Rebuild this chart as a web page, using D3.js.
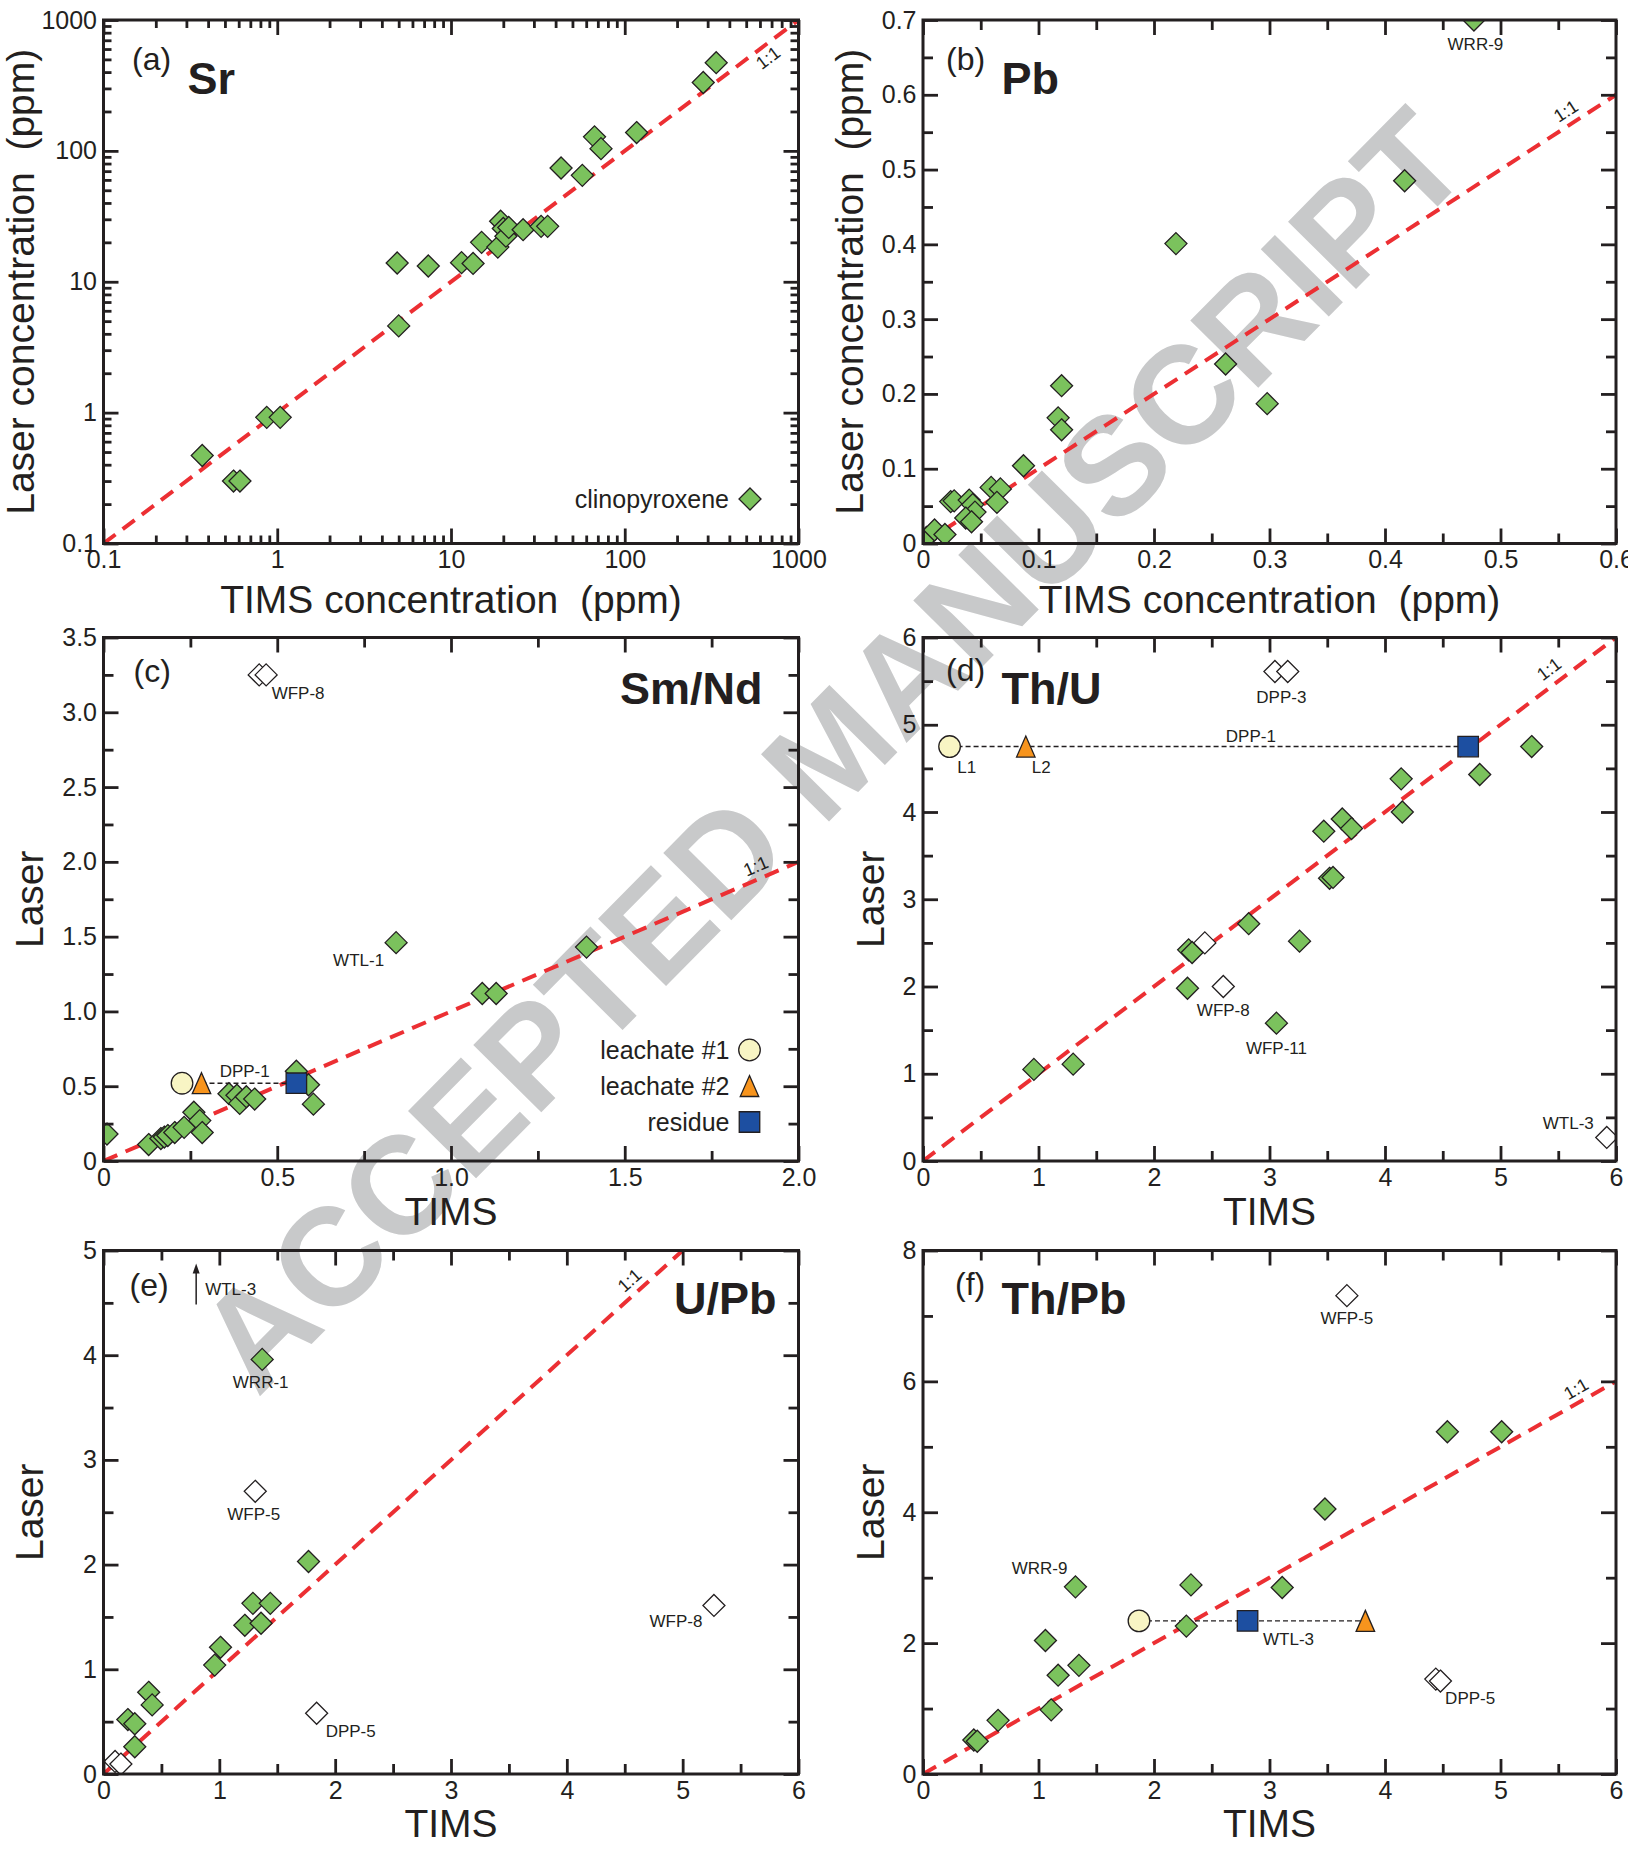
<!DOCTYPE html>
<html>
<head>
<meta charset="utf-8">
<script src="https://cdn.jsdelivr.net/npm/d3@7"></script>
<style>
  body { margin: 0; background: #fff; }
  svg text { font-family: "Liberation Sans", Arial, Helvetica, sans-serif; fill: #231f20; }
  .tick text { font-size: 25px; }
  .tick line { stroke: #231f20; stroke-width: 2.8px; }
</style>
</head>
<body>
<svg id="fig" width="1628" height="1849"></svg>
<script>
// ---------------- values: TIMS (x) vs laser (y) ----------------
// (a) Sr, ppm — clinopyroxene
const srTIMS  = [0.37, 0.56, 0.61, 0.87, 1.04, 4.9, 5.0, 7.4, 11.5, 13.4, 15.0, 18.6, 19.3, 20.0, 20.7, 21.5, 26, 33, 36, 43, 57, 67, 73, 117, 283, 336];
const srLaser = [0.47, 0.30, 0.30, 0.92, 0.92, 13.9, 4.6, 13.2, 14.0, 13.8, 20.0, 18.4, 29, 25.5, 22.3, 26, 25, 26.5, 26.5, 74, 65, 128, 104, 138, 333, 472];

// (b) Pb, ppm
const pbTIMS  = [0.003, 0.010, 0.019, 0.024, 0.027, 0.040, 0.043, 0.045, 0.037, 0.042, 0.059, 0.067, 0.064, 0.087, 0.117, 0.120, 0.120, 0.219, 0.262, 0.298, 0.417];
const pbLaser = [0.008, 0.018, 0.012, 0.056, 0.057, 0.058, 0.052, 0.042, 0.034, 0.029, 0.075, 0.073, 0.055, 0.104, 0.168, 0.152, 0.211, 0.401, 0.240, 0.187, 0.485];
const pbNamed = [["WRR-9", 0.477, 0.700]];

// (c) Sm/Nd
const smndTIMS  = [0.01, 0.13, 0.165, 0.175, 0.185, 0.205, 0.232, 0.26, 0.277, 0.284, 0.361, 0.384, 0.392, 0.411, 0.435, 0.555, 0.59, 0.604, 1.09, 1.13, 1.39];
const smndLaser = [0.18, 0.11, 0.15, 0.16, 0.17, 0.19, 0.225, 0.326, 0.27, 0.19, 0.45, 0.44, 0.385, 0.43, 0.414, 0.60, 0.51, 0.38, 1.12, 1.12, 1.43];
const smndNamed = [["WTL-1", 0.842, 1.46]];
const smndOpen  = [["WFP-8", 0.448, 3.25], ["WFP-8", 0.468, 3.25]];
// leachate #1, leachate #2, residue (DPP-1)
const smndLeachTIMS  = [0.226, 0.282, 0.555];
const smndLeachLaser = [0.52, 0.52, 0.52];

// (d) Th/U
const thuTIMS  = [0.96, 1.30, 2.29, 2.30, 2.33, 2.82, 3.26, 3.47, 3.52, 3.55, 3.63, 3.71, 4.14, 4.15, 4.82, 5.27];
const thuLaser = [1.05, 1.11, 1.98, 2.42, 2.39, 2.72, 2.52, 3.78, 3.24, 3.25, 3.92, 3.81, 4.38, 4.00, 4.43, 4.75];
const thuNamed = [["WFP-11", 3.06, 1.58]];
const thuOpen  = [["DPP-3", 3.047, 5.61], ["DPP-3", 3.158, 5.61], ["", 2.44, 2.50], ["WFP-8", 2.60, 2.00], ["WTL-3", 5.92, 0.27]];
const thuLeachTIMS  = [0.23, 0.89, 4.72];
const thuLeachLaser = [4.75, 4.75, 4.75];

// (e) U/Pb
const upbTIMS  = [0.21, 0.27, 0.27, 0.39, 0.42, 0.96, 1.01, 1.22, 1.29, 1.36, 1.44, 1.77];
const upbLaser = [0.52, 0.48, 0.26, 0.78, 0.66, 1.04, 1.21, 1.42, 1.63, 1.44, 1.63, 2.03];
const upbNamed = [["WRR-1", 1.37, 3.96]];
const upbOpen  = [["", 0.10, 0.12], ["", 0.15, 0.095], ["WFP-5", 1.31, 2.70], ["DPP-5", 1.84, 0.58], ["WFP-8", 5.27, 1.61]];
const upbOffscale = [["WTL-3", 0.80]];   // laser value above the plotted range

// (f) Th/Pb
const thpbTIMS  = [0.44, 0.47, 0.65, 1.11, 1.06, 1.17, 1.35, 2.28, 2.32, 3.11, 3.48, 4.54, 5.01];
const thpbLaser = [0.52, 0.50, 0.82, 0.98, 2.04, 1.51, 1.66, 2.26, 2.89, 2.85, 4.05, 5.23, 5.23];
const thpbNamed = [["WRR-9", 1.32, 2.86]];
const thpbOpen  = [["WFP-5", 3.67, 7.31], ["DPP-5", 4.44, 1.45], ["DPP-5", 4.48, 1.42]];
const thpbLeachTIMS  = [1.87, 3.83, 2.81];   // WTL-3
const thpbLeachLaser = [2.34, 2.34, 2.34];

// tick values
const logMajor = [0.1, 1, 10, 100, 1000];
const logMinor = [0.1, 1, 10, 100].flatMap(d => d3.range(2, 10).map(k => +(d * k).toPrecision(3)));
const pbTicks = [0, 0.1, 0.2, 0.3, 0.4, 0.5, 0.6, 0.7];
const halfTicks = [0, 0.5, 1, 1.5, 2, 2.5, 3, 3.5];
const unitTicks = [0, 1, 2, 3, 4, 5, 6];
const thpbYTicks = [0, 2, 4, 6, 8];

const leachNames = ["leachate #1", "leachate #2", "residue"];

// ---------------- layout ----------------
const INK = "#231f20";
const GREEN = "#7bc25d", YELLOW = "#f8f5c4", ORANGE = "#f7941d", BLUE = "#1d4fa1", RED = "#ec2f33";
const colX = [103.5, 923], colW = [695, 693];
const rowY = [20, 637.5, 1250.5], rowH = 523.5;

const fig = d3.select("#fig");
fig.append("rect").attr("width", 1628).attr("height", 1849).attr("fill", "#fff");

// watermark across the sheet
fig.append("text")
  .attr("transform", "translate(866,784) rotate(-45.3)")
  .attr("text-anchor", "middle")
  .style("font-size", "139px").style("font-weight", "bold").style("fill", "#c8c9ca")
  .text("ACCEPTED MANUSCRIPT");

// marker shapes
const diamondType = { draw(c, s) { const r = Math.sqrt(s / 2); c.moveTo(0, -r); c.lineTo(r, 0); c.lineTo(0, r); c.lineTo(-r, 0); c.closePath(); } };
const triType = { draw(c, s) { const h = Math.sqrt(s), hw = h * 0.44; c.moveTo(0, -h / 2); c.lineTo(hw, h / 2); c.lineTo(-hw, h / 2); c.closePath(); } };
const diamondPath = d3.symbol().type(diamondType).size(242)();
const leachPaths = [
  d3.symbol().type(d3.symbolCircle).size(366)(),
  d3.symbol().type(triType).size(441)(),
  d3.symbol().type(d3.symbolSquare).size(420)()
];
const leachFill = [YELLOW, ORANGE, BLUE];

const fmt1 = d => d === 0 ? "0" : d3.format(".1f")(d);

const specs = [
  { id: "a", col: 0, row: 0, log: true, xd: [0.1, 1000], yd: [0.1, 1000],
    xMajor: logMajor, xMinor: logMinor, yMajor: logMajor, yMinor: logMinor, minorLen: 8,
    xFmt: d => String(d), yFmt: d => String(d),
    xTitle: "TIMS concentration\u00a0\u00a0(ppm)", yTitle: "Laser concentration\u00a0\u00a0(ppm)",
    yTitleX: 33.5, xTitleDy: 69, letter: "(a)", letterAt: [28.5, 50], name: "Sr", nameAt: [84, 74], nameEnd: false,
    oneT: 608, oneDy: 18, tims: srTIMS, laser: srLaser, named: [], open: [], leachX: null, leachY: null,
    notes: [] },
  { id: "b", col: 1, row: 0, xd: [0, 0.6], yd: [0, 0.7],
    xMajor: pbTicks.slice(0, 7), xMinor: d3.range(0.05, 0.6, 0.1), yMajor: pbTicks, yMinor: d3.range(0.05, 0.7, 0.1), minorLen: 10,
    xFmt: fmt1, yFmt: fmt1,
    xTitle: "TIMS concentration\u00a0\u00a0(ppm)", yTitle: "Laser concentration\u00a0\u00a0(ppm)",
    yTitleX: 862.5, xTitleDy: 69, letter: "(b)", letterAt: [23, 50], name: "Pb", nameAt: [78.5, 74], nameEnd: false,
    oneT: 0.563, oneDy: -7.4, tims: pbTIMS, laser: pbLaser, named: pbNamed, open: [], leachX: null, leachY: null,
    notes: [{ ref: "WRR-9", dx: 1.5, dy: 30, anchor: "middle" }] },
  { id: "c", col: 0, row: 1, xd: [0, 2], yd: [0, 3.5],
    xMajor: [0, 0.5, 1, 1.5, 2], xMinor: [0.25, 0.75, 1.25, 1.75], yMajor: halfTicks, yMinor: d3.range(0.25, 3.5, 0.5), minorLen: 10,
    xFmt: fmt1, yFmt: fmt1,
    xTitle: "TIMS", yTitle: "Laser",
    yTitleX: 42.5, xTitleDy: 63.5, letter: "(c)", letterAt: [30, 44], name: "Sm/Nd", nameAt: [-36, 66], nameEnd: true,
    oneT: 1.892, oneDy: -6.9, tims: smndTIMS, laser: smndLaser, named: smndNamed, open: smndOpen,
    leachX: smndLeachTIMS, leachY: smndLeachLaser, leachFrom: 1, leachLabel: "DPP-1", leachLabelAt: [5.5, -6],
    notes: [{ ref: "WFP-8", idx: 1, dx: 5.5, dy: 24, anchor: "start" }, { ref: "WTL-1", dx: -12, dy: 23.5, anchor: "end" }] },
  { id: "d", col: 1, row: 1, xd: [0, 6], yd: [0, 6],
    xMajor: unitTicks, xMinor: d3.range(0.5, 6, 1), yMajor: unitTicks, yMinor: d3.range(0.5, 6, 1), minorLen: 10,
    xFmt: d3.format("d"), yFmt: d3.format("d"),
    xTitle: "TIMS", yTitle: "Laser",
    yTitleX: 884, xTitleDy: 63.5, letter: "(d)", letterAt: [23, 43], name: "Th/U", nameAt: [78.5, 66], nameEnd: false,
    oneT: 5.5, oneDy: -9, tims: thuTIMS, laser: thuLaser, named: thuNamed, open: thuOpen,
    leachX: thuLeachTIMS, leachY: thuLeachLaser, leachFrom: 0, leachLabel: "DPP-1", leachLabelAt: [42, -5],
    leachTags: [["L1", 7.7, 26], ["L2", 6, 26]],
    notes: [{ ref: "DPP-3", dx: 6.4, dy: 31, anchor: "middle" }, { ref: "WFP-8", dx: 0, dy: 29.5, anchor: "middle" },
            { ref: "WFP-11", dx: 0, dy: 30.5, anchor: "middle" }, { ref: "WTL-3", dx: -13, dy: -8, anchor: "end" }] },
  { id: "e", col: 0, row: 2, xd: [0, 6], yd: [0, 5],
    xMajor: unitTicks, xMinor: d3.range(0.5, 6, 1), yMajor: unitTicks.slice(0, 6), yMinor: d3.range(0.5, 5, 1), minorLen: 10,
    xFmt: d3.format("d"), yFmt: d3.format("d"),
    xTitle: "TIMS", yTitle: "Laser",
    yTitleX: 42.5, xTitleDy: 62.5, letter: "(e)", letterAt: [26, 45], name: "U/Pb", nameAt: [-22, 63.5], nameEnd: true,
    oneT: 4.62, oneDy: -7.4, tims: upbTIMS, laser: upbLaser, named: upbNamed, open: upbOpen, leachX: null, leachY: null,
    offscale: upbOffscale,
    notes: [{ ref: "WRR-1", dx: -1.5, dy: 29, anchor: "middle" }, { ref: "WFP-5", dx: -1.5, dy: 29, anchor: "middle" },
            { ref: "DPP-5", dx: 9, dy: 24, anchor: "start" }, { ref: "WFP-8", dx: -11.5, dy: 22, anchor: "end" }] },
  { id: "f", col: 1, row: 2, xd: [0, 6], yd: [0, 8],
    xMajor: unitTicks, xMinor: d3.range(0.5, 6, 1), yMajor: thpbYTicks, yMinor: [1, 3, 5, 7], minorLen: 10,
    xFmt: d3.format("d"), yFmt: d3.format("d"),
    xTitle: "TIMS", yTitle: "Laser",
    yTitleX: 884, xTitleDy: 62.5, letter: "(f)", letterAt: [32, 44], name: "Th/Pb", nameAt: [78.5, 63.5], nameEnd: false,
    oneT: 5.71, oneDy: -7, tims: thpbTIMS, laser: thpbLaser, named: thpbNamed, open: thpbOpen,
    leachX: thpbLeachTIMS, leachY: thpbLeachLaser, leachFrom: 0, leachLabel: "WTL-3", leachLabelRes: [15.5, 24],
    notes: [{ ref: "WFP-5", dx: 0, dy: 28.5, anchor: "middle" }, { ref: "WRR-9", dx: -8, dy: -12.5, anchor: "end" },
            { ref: "DPP-5", dx: 9.3, dy: 24.5, anchor: "start" }] }
];

function drawPanel(p) {
  const left = colX[p.col], top = rowY[p.row], w = colW[p.col], h = rowH;
  const g = fig.append("g").attr("transform", `translate(${left},${top})`);
  const x = (p.log ? d3.scaleLog() : d3.scaleLinear()).domain(p.xd).range([0, w]);
  const y = (p.log ? d3.scaleLog() : d3.scaleLinear()).domain(p.yd).range([h, 0]);

  g.append("clipPath").attr("id", "clip-" + p.id).append("rect").attr("width", w).attr("height", h);
  const plot = g.append("g").attr("clip-path", `url(#clip-${p.id})`);

  // 1:1 reference line
  const lo = Math.max(p.xd[0], p.yd[0]), hi = Math.min(p.xd[1], p.yd[1]);
  plot.append("line")
    .attr("x1", x(lo)).attr("y1", y(lo)).attr("x2", x(hi)).attr("y2", y(hi))
    .attr("stroke", RED).attr("stroke-width", 4).attr("stroke-dasharray", "15,9");

  // leachate-residue tie line
  if (p.leachX) {
    const xs = p.leachX.slice(p.leachFrom === 1 ? 1 : 0);
    plot.append("line")
      .attr("x1", x(d3.min(xs))).attr("x2", x(d3.max(p.leachX)))
      .attr("y1", y(p.leachY[0])).attr("y2", y(p.leachY[0]))
      .attr("stroke", INK).attr("stroke-width", 1.4).attr("stroke-dasharray", "5,3");
  }

  const pts = p.tims.map((v, i) => [v, p.laser[i]]);
  const mark = (sel, fill) => sel.append("path").attr("d", diamondPath)
    .attr("fill", fill).attr("stroke", INK).attr("stroke-width", 1.3);

  plot.selectAll(".pt").data(pts).join("g").attr("class", "pt")
    .attr("transform", d => `translate(${x(d[0])},${y(d[1])})`)
    .call(s => mark(s, GREEN));
  plot.selectAll(".nm").data(p.named).join("g").attr("class", "nm")
    .attr("transform", d => `translate(${x(d[1])},${y(d[2])})`)
    .call(s => mark(s, GREEN));
  plot.selectAll(".op").data(p.open).join("g").attr("class", "op")
    .attr("transform", d => `translate(${x(d[1])},${y(d[2])})`)
    .call(s => mark(s, "#fff"));

  if (p.leachX) {
    plot.selectAll(".lc").data(p.leachX.map((v, i) => [v, p.leachY[i], i])).join("path").attr("class", "lc")
      .attr("transform", d => `translate(${x(d[0])},${y(d[1])})`)
      .attr("d", d => leachPaths[d[2]]).attr("fill", d => leachFill[d[2]])
      .attr("stroke", INK).attr("stroke-width", 1.3);
  }

  // sample labels
  const all = p.named.concat(p.open);
  p.notes.forEach(n => {
    const hits = all.filter(d => d[0] === n.ref);
    const d = hits[n.idx || 0];
    g.append("text").attr("x", x(d[1]) + n.dx).attr("y", y(d[2]) + n.dy)
      .attr("text-anchor", n.anchor).style("font-size", "17px").text(n.ref);
  });
  if (p.leachX && p.leachLabelAt) {
    const mid = (x(d3.min(p.leachX)) + x(d3.max(p.leachX))) / 2;
    g.append("text").attr("x", mid + p.leachLabelAt[0]).attr("y", y(p.leachY[0]) + p.leachLabelAt[1])
      .attr("text-anchor", "middle").style("font-size", "17px").text(p.leachLabel);
  }
  if (p.leachX && p.leachLabelRes) {
    g.append("text").attr("x", x(p.leachX[2]) + p.leachLabelRes[0]).attr("y", y(p.leachY[2]) + p.leachLabelRes[1])
      .style("font-size", "17px").text(p.leachLabel);
  }
  if (p.leachTags) {
    p.leachTags.forEach((t, i) => g.append("text").attr("x", x(p.leachX[i]) + t[1]).attr("y", y(p.leachY[i]) + t[2])
      .style("font-size", "17px").text(t[0]));
  }
  if (p.offscale) {
    p.offscale.forEach(o => {
      const ax = x(o[1]);
      g.append("line").attr("x1", ax).attr("x2", ax).attr("y1", 54).attr("y2", 20)
        .attr("stroke", INK).attr("stroke-width", 1.5);
      g.append("path").attr("d", `M${ax},13L${ax + 3.5},23L${ax - 3.5},23Z`).attr("fill", INK);
      g.append("text").attr("x", ax + 9).attr("y", 44).style("font-size", "17px").text(o[0]);
    });
  }

  // 1:1 tag, parallel to the line
  {
    const t = p.oneT, t2 = p.log ? t * 1.5 : t + (hi - lo) * 0.05;
    const ang = Math.atan2(y(t) - y(t2), x(t2) - x(t)) * 180 / Math.PI;
    g.append("text").attr("transform", `translate(${x(t)},${y(t)}) rotate(${-ang})`)
      .attr("y", p.oneDy).attr("text-anchor", "middle").style("font-size", "18px").text("1:1");
  }

  // axes: ticks inside on every side
  const strip = s => s.select(".domain").remove();
  const axes = [
    [d3.axisBottom(x), `translate(0,${h})`, p.xMajor, p.xMinor, p.xFmt, 7],
    [d3.axisTop(x), "translate(0,0)", p.xMajor, p.xMinor, null, 0],
    [d3.axisLeft(y), "translate(0,0)", p.yMajor, p.yMinor, p.yFmt, 6.5],
    [d3.axisRight(y), `translate(${w},0)`, p.yMajor, p.yMinor, null, 0]
  ];
  axes.forEach(([axis, tr, major, minor, f, pad]) => {
    g.append("g").attr("transform", tr)
      .call(axis.tickValues(minor).tickSize(-p.minorLen).tickFormat(""))
      .call(strip);
    g.append("g").attr("transform", tr)
      .call(axis.tickValues(major).tickSize(-15).tickPadding(pad).tickFormat(f || ""))
      .call(strip);
  });

  g.append("rect").attr("width", w).attr("height", h)
    .attr("fill", "none").attr("stroke", INK).attr("stroke-width", 3);

  // legends
  if (p.id === "a") {
    const lg = g.append("g").attr("transform", `translate(${w - 48.5},${h - 44.5})`);
    lg.append("path").attr("d", diamondPath).attr("fill", GREEN).attr("stroke", INK).attr("stroke-width", 1.3);
    lg.append("text").attr("x", -21).attr("y", 9).attr("text-anchor", "end").style("font-size", "25px").text("clinopyroxene");
  }
  if (p.id === "c") {
    leachNames.forEach((nm, i) => {
      const lg = g.append("g").attr("transform", `translate(${w - 49},${h - 111 + i * 36})`);
      lg.append("path").attr("d", leachPaths[i]).attr("fill", leachFill[i]).attr("stroke", INK).attr("stroke-width", 1.3);
      lg.append("text").attr("x", -20).attr("y", 9).attr("text-anchor", "end").style("font-size", "25px").text(nm);
    });
  }

  // panel tag and quantity
  g.append("text").attr("x", p.letterAt[0]).attr("y", p.letterAt[1]).style("font-size", "32px").text(p.letter);
  g.append("text").attr("x", p.nameEnd ? w + p.nameAt[0] : p.nameAt[0]).attr("y", p.nameAt[1])
    .attr("text-anchor", p.nameEnd ? "end" : "start")
    .style("font-size", "45px").style("font-weight", "bold").text(p.name);

  // axis titles
  fig.append("text").attr("x", left + w / 2).attr("y", top + h + p.xTitleDy)
    .attr("text-anchor", "middle").style("font-size", "39px").text(p.xTitle);
  fig.append("text").attr("transform", `translate(${p.yTitleX},${top + h / 2}) rotate(-90)`)
    .attr("text-anchor", "middle").style("font-size", "39px").text(p.yTitle);
}

specs.forEach(drawPanel);
</script>
</body>
</html>
